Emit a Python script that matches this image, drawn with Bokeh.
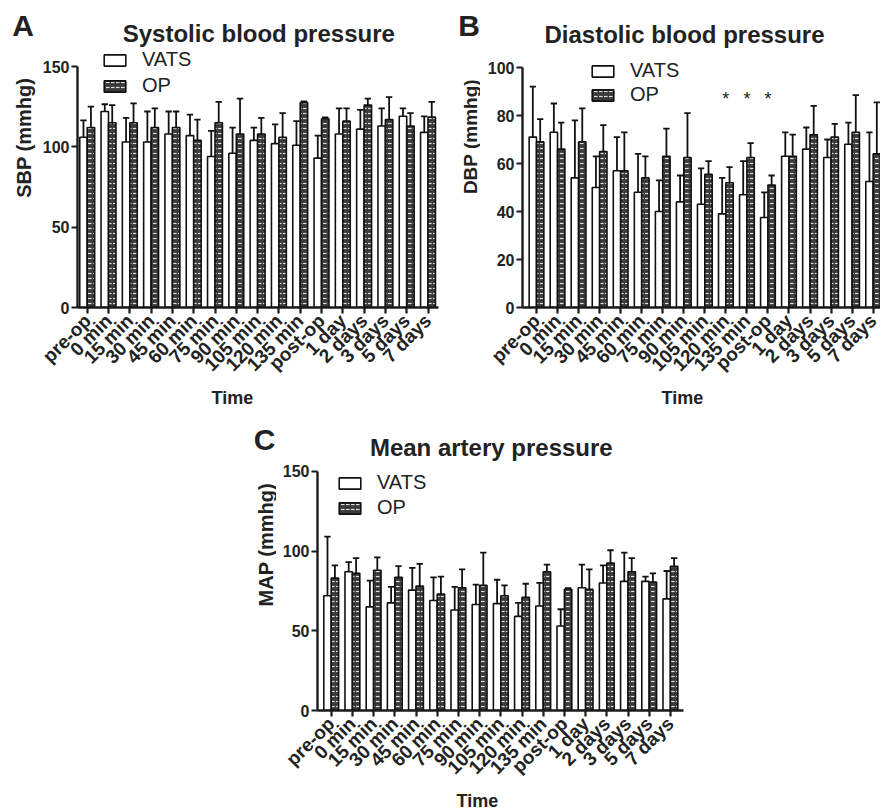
import numpy as np
from math import pi
from bokeh.plotting import figure
from bokeh.models import Label, FixedTicker, Spacer, Title
from bokeh.layouts import column, row
from bokeh.embed import file_html
from bokeh.resources import INLINE
from bokeh.core.properties import value

# ---------------- data ----------------
time_points = ["pre-op", "0 min", "15 min", "30 min", "45 min", "60 min", "75 min",
               "90 min", "105 min", "120 min", "135 min", "post-op", "1 day",
               "2 days", "3 days", "5 days", "7 days"]

sbp_vats = [106, 122, 103, 103, 108, 107, 94, 96, 104, 102, 101, 93, 108, 111, 113, 119, 109]
sbp_vats_err = [116.5, 126.5, 118, 122, 122, 120, 110, 112, 112, 114, 116, 107, 124, 123, 124, 124, 119]
sbp_op = [112, 115, 115, 112, 112, 104, 115, 108, 108, 106, 127.5, 117.5, 116, 126, 117, 113, 118.5]
sbp_op_err = [125, 126, 127, 124, 122, 117, 128, 130, 118, 121, 128.3, 118.3, 124, 130, 131, 121, 128]

dbp_vats = [71, 73, 54, 50, 57, 48, 40, 44, 43, 39, 47, 37.5, 63, 66, 62.5, 68, 52.5]
dbp_vats_err = [92, 85, 78, 63, 71, 64, 53, 55, 58, 54, 61, 48, 73, 75, 70, 77, 73]
dbp_op = [69, 66, 69, 65, 57, 54, 63, 62.5, 55.5, 52, 62.5, 51, 63, 72, 71, 73, 64]
dbp_op_err = [78.5, 77, 83, 76, 73, 63, 74.5, 81, 61, 58.5, 68.5, 55, 72, 84, 76.5, 88.5, 85.5]
dbp_significant = ["120 min", "135 min", "post-op"]

map_vats = [72, 87, 65, 67.5, 75.5, 69, 63, 66.5, 67, 59, 65.5, 53, 77, 80, 81, 81, 70]
map_vats_err = [109, 93, 81.5, 77.5, 89.5, 83.5, 77.5, 79, 82, 67.5, 80, 63.5, 91.5, 91, 99, 84, 87.5]
map_op = [83, 86, 88, 83.5, 78, 73, 77, 78.5, 72, 71, 87, 76, 76, 92.5, 87, 80.5, 90.5]
map_op_err = [91, 95.5, 96, 90.5, 92, 84, 88.5, 99, 78.5, 79.5, 91.5, 76.8, 88.5, 100.5, 95.5, 86, 95.5]

# ---------------- style ----------------
FONT = "Liberation Sans"
TXT = "#222222"
BAR_W = 0.35
CAP = 0.15


def strip(cfg, letter, ylabel):
    """Narrow text-only figure holding the panel letter and the y-axis title."""
    x0, y0, w, h = cfg["strip"]
    s = figure(width=w, height=h, output_backend="svg", toolbar_location=None,
               x_range=(0, w), y_range=(0, h), x_axis_type=None, y_axis_type=None,
               min_border_left=0, min_border_right=0, min_border_top=0, min_border_bottom=0,
               background_fill_color="white", border_fill_color="white")
    s.outline_line_color = None
    s.grid.visible = False
    lx, ly = cfg["letter"]
    s.add_layout(Label(x=lx - x0, y=y0 + h - ly, text=letter, text_font=FONT,
                       text_font_style="bold", text_font_size="30px", text_color=TXT,
                       text_align="center", text_baseline="alphabetic"))
    yx, yy = cfg["ylabel"]
    s.add_layout(Label(x=yx - x0, y=y0 + h - yy, text=ylabel, text_font=FONT,
                       text_font_style="bold", text_font_size=cfg["ylabel_size"], text_color=TXT,
                       angle=pi / 2, text_align="center", text_baseline="middle"))
    return s


def make_panel(cfg, vats, vats_err, op, op_err, title, ymax, yticks, stars=None):
    fl, fr, ft, fb = cfg["frame"]
    gl, gt, gw, gh = cfg["fig"]
    xpx, xt0, ypx = cfg["xpx"], cfg["xt0"], cfg["ypx"]
    x_start = (fl - xt0) / xpx
    x_end = (fr - xt0) / xpx
    y_end = (fb - ft) / ypx
    p = figure(width=gw, height=gh, output_backend="svg", toolbar_location=None,
               x_range=(x_start, x_end), y_range=(0, y_end),
               min_border_left=int(round(fl - gl)), min_border_right=int(round(gl + gw - fr)),
               min_border_top=int(round(ft - gt)), min_border_bottom=int(round(gt + gh - fb)),
               background_fill_color="white", border_fill_color="white")
    p.outline_line_color = None
    p.xgrid.visible = False
    p.ygrid.visible = False

    n = len(time_points)
    idx = np.arange(n)
    xv = idx - BAR_W / 2
    xo = idx + BAR_W / 2
    p.vbar(x=xv, top=vats, width=BAR_W, fill_color="white", line_color="#111111",
           line_width=1.6, legend_label="VATS")
    p.vbar(x=xo, top=op, width=BAR_W, fill_color="#3a3a3a", line_color="#111111",
           line_width=1.6, hatch_pattern="horizontal_dash", hatch_color="#dcdcdc",
           hatch_scale=5, hatch_weight=1.2, legend_label="OP")
    for xs, top, err in ((xv, vats, vats_err), (xo, op, op_err)):
        p.segment(x0=xs, y0=top, x1=xs, y1=err, line_color="#111111", line_width=1.8)
        p.segment(x0=xs - CAP, y0=err, x1=xs + CAP, y1=err, line_color="#111111", line_width=1.8)

    if stars:
        sx = [time_points.index(s) for s in stars]
        p.text(x=sx, y=[cfg["star_y"]] * len(sx), text=["*"] * len(sx),
               text_font=value(FONT), text_font_size="18px", text_color=TXT,
               text_align="center", text_baseline="middle")

    # axes
    for ax in (p.xaxis[0], p.yaxis[0]):
        ax.axis_line_width = 2.4
        ax.axis_line_color = "#1a1a1a"
        ax.major_tick_line_width = 2.2
        ax.major_tick_line_color = "#1a1a1a"
        ax.major_tick_out = 6
        ax.major_tick_in = 0
        ax.minor_tick_line_color = None
        ax.major_label_text_font = FONT
        ax.major_label_text_font_style = "bold"
        ax.major_label_text_color = TXT
    p.yaxis.ticker = FixedTicker(ticks=yticks)
    p.yaxis.bounds = (0, ymax)
    p.yaxis.major_label_text_font_size = "16px"
    p.yaxis.major_label_standoff = 2
    p.xaxis.ticker = FixedTicker(ticks=list(range(n)))
    p.xaxis.major_label_overrides = {i: t for i, t in enumerate(time_points)}
    p.xaxis.major_label_orientation = pi / 4
    p.xaxis.major_label_text_font_size = "19px"
    p.xaxis.major_label_standoff = 4

    # x-axis title
    p.add_layout(Title(text="Time", align="left", offset=cfg["time_offset"], standoff=0,
                       text_font=FONT, text_font_style="bold", text_font_size="18px",
                       text_color=TXT), "below")

    # legend
    lg = p.legend[0]
    lg.location = cfg["legend_loc"]
    lg.border_line_color = None
    lg.background_fill_alpha = 0
    lg.padding = 0
    lg.margin = 0
    lg.spacing = cfg["legend_spacing"]
    lg.glyph_width = 27
    lg.glyph_height = 14
    lg.label_height = 21
    lg.label_standoff = 14
    lg.label_text_font = FONT
    lg.label_text_font_size = "20px"
    lg.label_text_color = TXT

    # chart title (inside the frame's empty top band)
    tx, ty = cfg["title"]
    p.add_layout(Label(x=(tx - xt0) / xpx, y=(fb - ty) / ypx, text=title, text_font=FONT,
                       text_font_style="bold", text_font_size="24px", text_color=TXT,
                       text_align="center", text_baseline="alphabetic"))
    return p


cfg_a = dict(strip=(0, 0, 38, 418), fig=(38, 0, 402, 418), frame=(77, 438, 0, 309),
             xpx=21.3, xt0=86.7, ypx=1.617, legend_loc=(24, 210), legend_spacing=3,
             letter=(22.5, 33.5), title=(258.3, 33.5), ylabel=(23, 187), ylabel_size="20px",
             time_offset=134)
cfg_b = dict(strip=(440, 0, 40, 418), fig=(480, 0, 400, 418), frame=(522, 880, 0, 307),
             xpx=21.04, xt0=536, ypx=2.4, legend_loc=(67, 201), legend_spacing=1, star_y=87,
             letter=(468.5, 33.5), title=(684, 33.5), ylabel=(470, 181.7), ylabel_size="19px",
             time_offset=139)
cfg_c = dict(strip=(238, 418, 38, 392), fig=(276, 418, 414, 392), frame=(317, 683, 418, 711),
             xpx=21.2, xt0=330.7, ypx=1.6, legend_loc=(19, 191), legend_spacing=2,
             letter=(264, 446.7), title=(490.8, 446.7), ylabel=(265, 587.5), ylabel_size="20px",
             time_offset=139)

pa = make_panel(cfg_a, sbp_vats, sbp_vats_err, sbp_op, sbp_op_err,
                "Systolic blood pressure", 150, [0, 50, 100, 150])
pb = make_panel(cfg_b, dbp_vats, dbp_vats_err, dbp_op, dbp_op_err,
                "Diastolic blood pressure", 100, [0, 20, 40, 60, 80, 100], stars=dbp_significant)
pc = make_panel(cfg_c, map_vats, map_vats_err, map_op, map_op_err,
                "Mean artery pressure", 150, [0, 50, 100, 150])
sa = strip(cfg_a, "A", "SBP (mmhg)")
sb = strip(cfg_b, "B", "DBP  (mmhg)")
sc = strip(cfg_c, "C", "MAP (mmhg)")

layout = column(row(sa, pa, sb, pb, spacing=0),
                row(Spacer(width=238, height=392), sc, pc, spacing=0), spacing=0)

open("out.html", "w").write(file_html(layout, INLINE))
